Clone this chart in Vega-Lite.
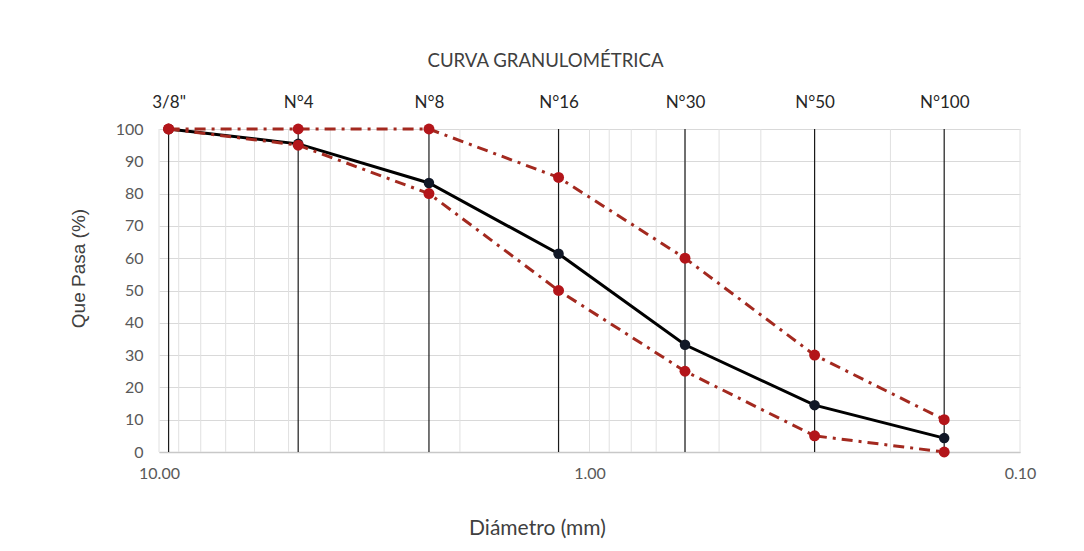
{
  "$schema": "https://vega.github.io/schema/vega-lite/v6.json",
  "width": 861,
  "height": 323,
  "autosize": {"type": "none"},
  "padding": {"left": 159, "top": 129, "right": 64, "bottom": 99},
  "background": "white",
  "config": {"view": {"stroke": null}, "font": "Lato"},
  "title": {
    "text": "CURVA GRANULOMÉTRICA",
    "font": "Lato",
    "fontSize": 18.6,
    "fontWeight": "normal",
    "color": "#404040",
    "anchor": "middle",
    "dx": -44,
    "offset": 22
  },
  "datasets": {
    "grid": [
      {"d": 10}, {"d": 9}, {"d": 8}, {"d": 7}, {"d": 6}, {"d": 5}, {"d": 4}, {"d": 3}, {"d": 2},
      {"d": 1}, {"d": 0.9}, {"d": 0.8}, {"d": 0.7}, {"d": 0.6}, {"d": 0.5}, {"d": 0.4}, {"d": 0.3}, {"d": 0.2}, {"d": 0.1}
    ],
    "tamices": [
      {"tamiz": "3/8\"", "abertura": 9.5},
      {"tamiz": "N°4", "abertura": 4.75},
      {"tamiz": "N°8", "abertura": 2.36},
      {"tamiz": "N°16", "abertura": 1.18},
      {"tamiz": "N°30", "abertura": 0.6},
      {"tamiz": "N°50", "abertura": 0.3},
      {"tamiz": "N°100", "abertura": 0.15}
    ],
    "curva": [
      {"tamiz": "3/8\"", "abertura": 9.5, "pasa": 100},
      {"tamiz": "N°4", "abertura": 4.75, "pasa": 95.4},
      {"tamiz": "N°8", "abertura": 2.36, "pasa": 83.3},
      {"tamiz": "N°16", "abertura": 1.18, "pasa": 61.4},
      {"tamiz": "N°30", "abertura": 0.6, "pasa": 33.2},
      {"tamiz": "N°50", "abertura": 0.3, "pasa": 14.5},
      {"tamiz": "N°100", "abertura": 0.15, "pasa": 4.3}
    ],
    "limites": [
      {"limite": "Superior", "abertura": 9.5, "pasa": 100},
      {"limite": "Superior", "abertura": 4.75, "pasa": 100},
      {"limite": "Superior", "abertura": 2.36, "pasa": 100},
      {"limite": "Superior", "abertura": 1.18, "pasa": 85},
      {"limite": "Superior", "abertura": 0.6, "pasa": 60},
      {"limite": "Superior", "abertura": 0.3, "pasa": 30},
      {"limite": "Superior", "abertura": 0.15, "pasa": 10},
      {"limite": "Inferior", "abertura": 9.5, "pasa": 100},
      {"limite": "Inferior", "abertura": 4.75, "pasa": 95},
      {"limite": "Inferior", "abertura": 2.36, "pasa": 80},
      {"limite": "Inferior", "abertura": 1.18, "pasa": 50},
      {"limite": "Inferior", "abertura": 0.6, "pasa": 25},
      {"limite": "Inferior", "abertura": 0.3, "pasa": 5},
      {"limite": "Inferior", "abertura": 0.15, "pasa": 0}
    ]
  },
  "layer": [
    {
      "data": {"name": "grid"},
      "mark": {"type": "rule", "color": "#e0e0e0", "strokeWidth": 1},
      "encoding": {
        "x": {"field": "d", "type": "quantitative", "scale": {"type": "log", "domain": [0.1, 10], "reverse": true}, "axis": null}
      }
    },
    {
      "data": {"name": "curva"},
      "mark": {"type": "point", "opacity": 0},
      "encoding": {
        "x": {"field": "abertura", "type": "quantitative", "scale": {"type": "log", "domain": [0.1, 10], "reverse": true}, "axis": null},
        "y": {
          "field": "pasa", "type": "quantitative",
          "scale": {"domain": [0, 100], "nice": false},
          "axis": {
            "values": [0, 10, 20, 30, 40, 50, 60, 70, 80, 90, 100],
            "labelOverlap": false,
            "title": "Que Pasa (%)",
            "titleFont": "Liberation Sans",
            "titleFontSize": 19,
            "titleFontWeight": "normal",
            "titleColor": "#404040",
            "titleAngle": -90,
            "titleAlign": "center",
            "titleBaseline": "middle",
            "titleX": -81,
            "titleY": 139,
            "labelFont": "Lato",
            "labelFontSize": 16,
            "labelColor": "#595959",
            "labelPadding": 16,
            "ticks": false,
            "domain": false,
            "grid": true,
            "gridColor": "#d9d9d9",
            "gridWidth": 1
          }
        }
      }
    },
    {
      "data": {"name": "tamices"},
      "mark": {"type": "rule", "color": "#1a1a1a", "strokeWidth": 1.2},
      "encoding": {
        "x": {
          "field": "abertura", "type": "quantitative",
          "scale": {"type": "log", "domain": [0.1, 10], "reverse": true},
          "axis": {
            "orient": "top",
            "values": [9.5, 4.75, 2.36, 1.18, 0.6, 0.3, 0.15],
            "labelExpr": "datum.value == 9.5 ? '3/8\"' : datum.value == 4.75 ? 'N°4' : datum.value == 2.36 ? 'N°8' : datum.value == 1.18 ? 'N°16' : datum.value == 0.6 ? 'N°30' : datum.value == 0.3 ? 'N°50' : 'N°100'",
            "labelFont": "Lato",
            "labelFontSize": 17,
            "labelColor": "#262626",
            "labelPadding": 18,
            "labelFlush": false,
            "labelOverlap": false,
            "ticks": false,
            "domain": false,
            "grid": false,
            "title": null
          }
        }
      }
    },
    {
      "data": {"name": "curva"},
      "mark": {"type": "line", "color": "#000000", "strokeWidth": 3},
      "encoding": {
        "x": {
          "field": "abertura", "type": "quantitative",
          "scale": {"type": "log", "domain": [0.1, 10], "reverse": true},
          "axis": {
            "orient": "bottom",
            "values": [10, 1, 0.1],
            "format": ".2f",
            "labelFont": "Lato",
            "labelFontSize": 16,
            "labelColor": "#595959",
            "labelPadding": 13,
            "labelFlush": false,
            "ticks": false,
            "domain": true,
            "domainColor": "#c8c8c8",
            "domainWidth": 1.5,
            "grid": false,
            "title": "Diámetro (mm)",
            "titleFont": "Lato",
            "titleFontSize": 21,
            "titleFontWeight": "normal",
            "titleColor": "#404040",
            "titleAlign": "center",
            "titleBaseline": "middle",
            "titleX": 378,
            "titleY": 76
          }
        },
        "y": {"field": "pasa", "type": "quantitative", "scale": {"domain": [0, 100], "nice": false}, "axis": null}
      }
    },
    {
      "data": {"name": "curva"},
      "mark": {"type": "circle", "color": "#111827", "size": 110, "opacity": 1},
      "encoding": {
        "x": {"field": "abertura", "type": "quantitative", "scale": {"type": "log", "domain": [0.1, 10], "reverse": true}, "axis": null},
        "y": {"field": "pasa", "type": "quantitative", "scale": {"domain": [0, 100], "nice": false}, "axis": null}
      }
    },
    {
      "data": {"name": "limites"},
      "mark": {"type": "line", "color": "#a3291f", "strokeWidth": 3, "strokeDash": [11, 6, 3, 6]},
      "encoding": {
        "x": {"field": "abertura", "type": "quantitative", "scale": {"type": "log", "domain": [0.1, 10], "reverse": true}, "axis": null},
        "y": {"field": "pasa", "type": "quantitative", "scale": {"domain": [0, 100], "nice": false}, "axis": null},
        "detail": {"field": "limite", "type": "nominal"}
      }
    },
    {
      "data": {"name": "limites"},
      "mark": {"type": "circle", "color": "#b3151a", "size": 120, "opacity": 1},
      "encoding": {
        "x": {"field": "abertura", "type": "quantitative", "scale": {"type": "log", "domain": [0.1, 10], "reverse": true}, "axis": null},
        "y": {"field": "pasa", "type": "quantitative", "scale": {"domain": [0, 100], "nice": false}, "axis": null}
      }
    }
  ],
  "resolve": {"axis": {"x": "independent", "y": "independent"}}
}
